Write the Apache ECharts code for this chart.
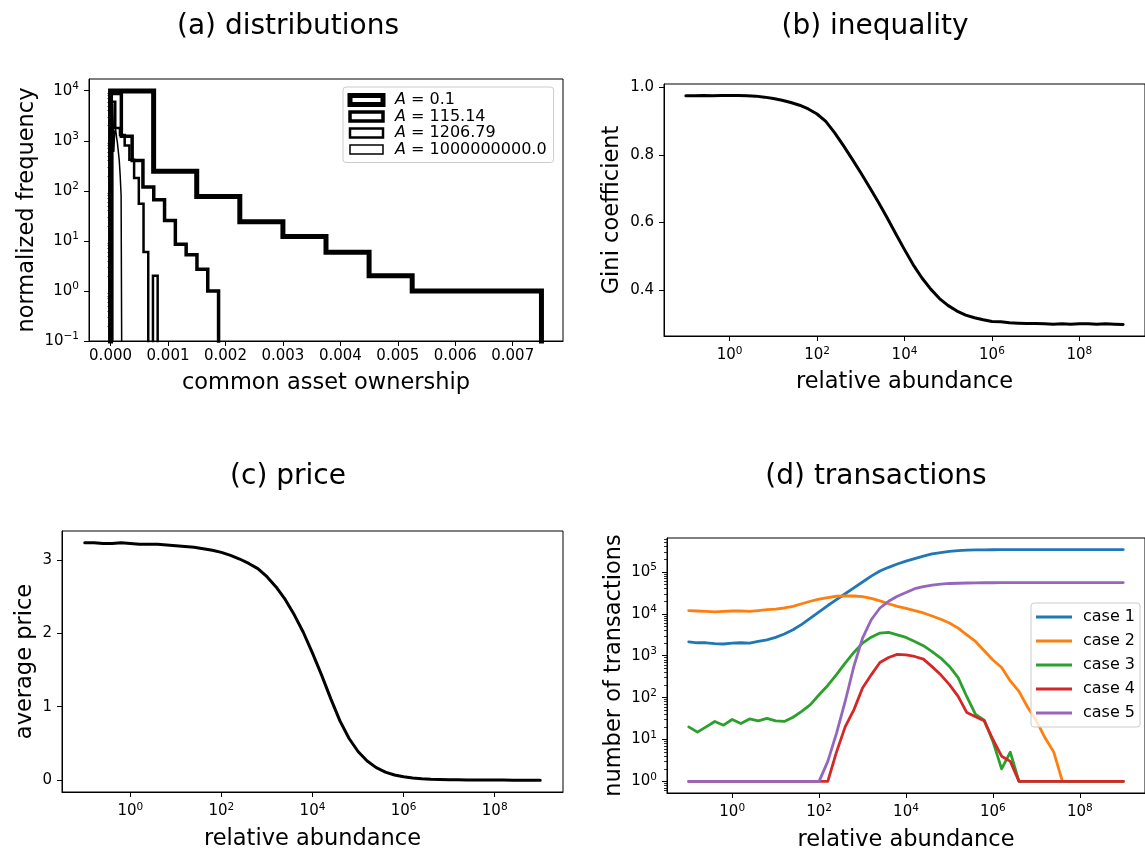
<!DOCTYPE html>
<html>
<head>
<meta charset="utf-8">
<script src="https://cdn.jsdelivr.net/npm/echarts@6.0.0/dist/echarts.min.js"></script>
<style>
  html, body { margin: 0; padding: 0; background: #ffffff; }
  #chart { width: 1145px; height: 853px; }
</style>
</head>
<body>
<div id="chart"></div>
<script>
// ---------- (a) distributions: histogram bin edges and normalized frequencies ----------
const histNames = ['A = 0.1', 'A = 115.14', 'A = 1206.79', 'A = 1000000000.0'];
const edgesA1 = [0, 0.00075, 0.0015, 0.00225, 0.003, 0.00375, 0.0045, 0.00525, 0.006, 0.00675, 0.0075];
const freqA1  = [9900, 245, 77, 24, 12.2, 5.9, 2, 1, 1, 1];
const edgesA2 = [0, 0.000188, 0.000376, 0.000564, 0.000752, 0.00094, 0.001128, 0.001316, 0.001504, 0.001692, 0.00188];
const freqA2  = [8800, 1230, 405, 119, 66, 25.6, 8.6, 5.3, 2.7, 1];
const edgesA3 = [0, 0.000082, 0.000164, 0.000246, 0.000328, 0.00041, 0.000492, 0.000574, 0.000656, 0.000738, 0.00082];
const freqA3  = [6000, 1800, 1300, 800, 420, 180, 55, 6, 0, 2];
const edgesA4 = [0.00004, 0.000056, 0.000072, 0.000088, 0.000104, 0.00012, 0.000136, 0.000152, 0.000168, 0.000184, 0.0002];
const freqA4  = [5600, 600, 1500, 1700, 1200, 900, 600, 400, 200, 80];

const ownershipTicks = [0, 0.001, 0.002, 0.003, 0.004, 0.005, 0.006, 0.007];
const freqTicks = [0.1, 1, 10, 100, 1000, 10000];

// ---------- shared abundance samples for (b), (c), (d) ----------
const abundance = [
  0.1, 0.1585, 0.2512, 0.3981, 0.631, 1, 1.585, 2.512, 3.981, 6.31,
  10, 15.85, 25.12, 39.81, 63.1, 100, 158.5, 251.2, 398.1, 631,
  1000, 1585, 2512, 3981, 6310, 1e4, 1.585e4, 2.512e4, 3.981e4, 6.31e4,
  1e5, 1.585e5, 2.512e5, 3.981e5, 6.31e5, 1e6, 1.585e6, 2.512e6, 3.981e6, 6.31e6,
  1e7, 1.585e7, 2.512e7, 3.981e7, 6.31e7, 1e8, 1.585e8, 2.512e8, 3.981e8, 6.31e8,
  1e9
];
const abundanceTicks = [1, 1e2, 1e4, 1e6, 1e8];

// ---------- (b) inequality ----------
const gini = [
  0.975, 0.975, 0.976, 0.975, 0.976, 0.976, 0.976, 0.975, 0.974, 0.971,
  0.967, 0.962, 0.955, 0.947, 0.936, 0.921, 0.899, 0.866, 0.828, 0.788,
  0.747, 0.704, 0.660, 0.614, 0.566, 0.519, 0.474, 0.435, 0.402, 0.374,
  0.353, 0.337, 0.325, 0.317, 0.311, 0.306, 0.305, 0.302, 0.301, 0.300,
  0.300, 0.299, 0.298, 0.299, 0.298, 0.299, 0.299, 0.298, 0.299, 0.298,
  0.297
];
const giniTicks = [0.4, 0.6, 0.8, 1.0];

// ---------- (c) price ----------
const price = [
  3.23, 3.23, 3.22, 3.22, 3.23, 3.22, 3.21, 3.21, 3.21, 3.20,
  3.19, 3.18, 3.17, 3.15, 3.13, 3.10, 3.06, 3.01, 2.95, 2.88,
  2.77, 2.63, 2.46, 2.25, 2.01, 1.73, 1.43, 1.11, 0.81, 0.57,
  0.39, 0.26, 0.17, 0.11, 0.07, 0.045, 0.03, 0.02, 0.013, 0.009,
  0.006, 0.004, 0.003, 0.002, 0.001, 0.001, 0.001, 0, 0, 0,
  0
];
const priceTicks = [0, 1, 2, 3];

// ---------- (d) transactions ----------
const caseNames = ['case 1', 'case 2', 'case 3', 'case 4', 'case 5'];
const trans1 = [
  2140, 2040, 2040, 1950, 1905, 2000, 2040, 2000, 2190, 2400,
  2750, 3310, 4170, 5620, 7940, 11200, 15800, 21900, 30200, 41700,
  57500, 79400, 105000, 129000, 155000, 182000, 209000, 240000, 269000, 288000,
  309000, 324000, 331000, 335000, 338000, 339000, 340000, 341000, 341000, 342000,
  342000, 341000, 342000, 342000, 341000, 342000, 342000, 342000, 341000, 342000,
  342000
];
const trans2 = [
  12000, 11700, 11500, 11200, 11500, 11700, 11800, 11400, 12000, 12600,
  12900, 13800, 15100, 17400, 20000, 22400, 24500, 26300, 26900, 26700,
  25700, 23400, 20400, 17400, 15100, 13500, 12000, 10500, 8910, 7410,
  6030, 4570, 3160, 2190, 1320, 794, 525, 251, 141, 59,
  28, 11, 5, 1, 1, 1, 1, 1, 1, 1,
  1
];
const trans3 = [
  20, 15, 20, 27, 22, 30, 24, 31, 28, 32,
  28, 27, 34, 47, 68, 117, 195, 355, 667, 1200,
  2000, 2770, 3470, 3600, 3160, 2740, 2190, 1740, 1260, 880,
  555, 300, 105, 40, 29, 9, 2, 5, 1, 1,
  1, 1, 1, 1, 1, 1, 1, 1, 1, 1,
  1
];
const trans4 = [
  1, 1, 1, 1, 1, 1, 1, 1, 1, 1,
  1, 1, 1, 1, 1, 1, 1, 5, 20, 51,
  170, 350, 690, 910, 1080, 1050, 960, 830, 550, 350,
  204, 107, 44, 35, 28, 10, 4, 3, 1, 1,
  1, 1, 1, 1, 1, 1, 1, 1, 1, 1,
  1
];
const trans5 = [
  1, 1, 1, 1, 1, 1, 1, 1, 1, 1,
  1, 1, 1, 1, 1, 1, 3, 14, 81, 555,
  2630, 7240, 13800, 19900, 26300, 32400, 39800, 44700, 48600, 51300,
  53100, 53700, 54500, 55000, 55200, 55300, 55500, 55400, 55600, 55500,
  55700, 55600, 55600, 55800, 55700, 55600, 55800, 55700, 55800, 55900,
  55800
];
const transTicks = [1, 10, 100, 1e3, 1e4, 1e5];

// ---------- styling ----------
const FONT = 'DejaVu Sans';
const BLACK = '#000000';
const caseColors = ['#1f77b4', '#ff7f0e', '#2ca02c', '#d62728', '#9467bd'];
const histLineWidths = [5, 3.5, 2.5, 1.5];
const histFloor = 1e-3;      // baseline below the axis, clipped by the grid
const freqAxisMax = 17140;

// 5% autoscale margins, linear and logarithmic
function padLin(lo, hi) { const d = (hi - lo) * 0.05; return [lo - d, hi + d]; }
function padLog(lo, hi) {
  const a = Math.log10(lo), b = Math.log10(hi), d = (b - a) * 0.05;
  return [Math.pow(10, a - d), Math.pow(10, b + d)];
}
function minorLogTicks(lo, hi) {
  const out = [];
  for (let k = Math.floor(Math.log10(lo)); k <= Math.ceil(Math.log10(hi)); k++) {
    for (let m = 2; m <= 9; m++) {
      const v = m * Math.pow(10, k);
      if (v > lo && v < hi) out.push(v);
    }
  }
  return out;
}
// step outline of a histogram (closed down to the baseline at both ends)
function stepOutline(edges, counts) {
  const pts = [[edges[0], histFloor]];
  counts.forEach((c, i) => {
    const v = c > 0 ? c : histFloor;
    pts.push([edges[i], v], [edges[i + 1], v]);
  });
  pts.push([edges[edges.length - 1], histFloor]);
  return pts;
}
function powLabel(v) {
  const e = Math.round(Math.log10(v));
  return '{b|10}{s|' + (e < 0 ? '\u2212' + (-e) : String(e)) + '}';
}
const powRich = {
  b: { fontFamily: FONT, fontSize: 15, lineHeight: 20, color: BLACK },
  s: { fontFamily: FONT, fontSize: 10.5, lineHeight: 9, verticalAlign: 'top', color: BLACK }
};

const ownershipRange = padLin(0, 0.0075);
const abundanceRange = padLog(0.1, 1e9);
const giniRange = padLin(Math.min(...gini), Math.max(...gini));
const priceRange = padLin(Math.min(...price), Math.max(...price));
const transRange = padLog(1, Math.max(...trans1));

const grids = [
  { left: 89,  top: 79,  width: 474, height: 262 },
  { left: 664, top: 84,  width: 486, height: 252 },
  { left: 62,  top: 531, width: 501, height: 261 },
  { left: 667, top: 538, width: 483, height: 255 }
].map(g => Object.assign({ show: true, borderColor: BLACK, borderWidth: 1, backgroundColor: 'transparent' }, g));

function axisBase(gridIndex, name, nameGap) {
  return {
    gridIndex, name, nameGap,
    nameLocation: 'middle',
    nameTextStyle: { fontFamily: FONT, fontSize: 22.5, color: BLACK },
    axisLine: { show: true, onZero: false, lineStyle: { color: BLACK, width: 1 } },
    splitLine: { show: false },
    minorSplitLine: { show: false }
  };
}
function ticksOn(values, formatter, margin, rich) {
  return {
    axisTick: { show: true, customValues: values, length: 5, lineStyle: { color: BLACK, width: 1 } },
    axisLabel: {
      show: true, customValues: values, formatter, margin,
      fontFamily: FONT, fontSize: 15, color: BLACK, rich: rich || undefined
    }
  };
}
function minorAxis(gridIndex, lo, hi) {
  return {
    gridIndex, type: 'log', logBase: 10, min: lo, max: hi, position: 'left',
    axisLine: { show: false },
    axisLabel: { show: false },
    splitLine: { show: false },
    axisTick: { show: true, customValues: minorLogTicks(lo, hi), length: 3, lineStyle: { color: BLACK, width: 0.8 } }
  };
}

const xAxes = [
  Object.assign(axisBase(0, 'common asset ownership', 31), {
    type: 'value', min: ownershipRange[0], max: ownershipRange[1]
  }, ticksOn(ownershipTicks, v => v.toFixed(3), 8)),
  Object.assign(axisBase(1, 'relative abundance', 35), {
    type: 'log', logBase: 10, min: abundanceRange[0], max: abundanceRange[1]
  }, ticksOn(abundanceTicks, powLabel, 9.5, powRich)),
  Object.assign(axisBase(2, 'relative abundance', 36), {
    type: 'log', logBase: 10, min: abundanceRange[0], max: abundanceRange[1]
  }, ticksOn(abundanceTicks, powLabel, 9.5, powRich)),
  Object.assign(axisBase(3, 'relative abundance', 36), {
    type: 'log', logBase: 10, min: abundanceRange[0], max: abundanceRange[1]
  }, ticksOn(abundanceTicks, powLabel, 9.5, powRich))
];

const yAxes = [
  Object.assign(axisBase(0, 'normalized frequency', 50), {
    type: 'log', logBase: 10, min: 0.1, max: freqAxisMax, position: 'left'
  }, ticksOn(freqTicks, powLabel, 10, powRich)),
  Object.assign(axisBase(1, 'Gini coefficient', 40), {
    type: 'value', min: giniRange[0], max: giniRange[1], position: 'left'
  }, ticksOn(giniTicks, v => v.toFixed(1), 10)),
  Object.assign(axisBase(2, 'average price', 25), {
    type: 'value', min: priceRange[0], max: priceRange[1], position: 'left'
  }, ticksOn(priceTicks, v => String(Math.round(v)), 10)),
  Object.assign(axisBase(3, 'number of transactions', 41.5), {
    type: 'log', logBase: 10, min: transRange[0], max: transRange[1], position: 'left'
  }, ticksOn(transTicks, powLabel, 10, powRich)),
  minorAxis(0, 0.1, freqAxisMax),
  minorAxis(3, transRange[0], transRange[1])
];

const histEdges = [edgesA1, edgesA2, edgesA3, edgesA4];
const histFreqs = [freqA1, freqA2, freqA3, freqA4];
const series = [];
histNames.forEach((name, i) => {
  series.push({
    name, type: 'line', xAxisIndex: 0, yAxisIndex: 0,
    data: stepOutline(histEdges[i], histFreqs[i]),
    symbol: 'none', clip: true, silent: true,
    lineStyle: { color: BLACK, width: histLineWidths[i], join: 'miter', cap: 'butt' },
    itemStyle: { color: BLACK }
  });
});
series.push({
  name: 'gini', type: 'line', xAxisIndex: 1, yAxisIndex: 1,
  data: abundance.map((x, i) => [x, gini[i]]),
  symbol: 'none', silent: true,
  lineStyle: { color: BLACK, width: 3, join: 'round', cap: 'round' }
});
series.push({
  name: 'price', type: 'line', xAxisIndex: 2, yAxisIndex: 2,
  data: abundance.map((x, i) => [x, price[i]]),
  symbol: 'none', silent: true,
  lineStyle: { color: BLACK, width: 3, join: 'round', cap: 'round' }
});
[trans1, trans2, trans3, trans4, trans5].forEach((arr, i) => {
  series.push({
    name: caseNames[i], type: 'line', xAxisIndex: 3, yAxisIndex: 3,
    data: abundance.map((x, j) => [x, arr[j]]),
    symbol: 'none', silent: true, clip: true,
    color: caseColors[i],
    lineStyle: { color: caseColors[i], width: 2.8, join: 'round', cap: 'round' },
    itemStyle: { color: caseColors[i] }
  });
});

const titles = [
  { text: '(a) distributions', x: 288, y: 27 },
  { text: '(b) inequality',    x: 875, y: 27 },
  { text: '(c) price',         x: 288, y: 477 },
  { text: '(d) transactions',  x: 876, y: 477 }
];

const option = {
  animation: false,
  backgroundColor: '#ffffff',
  grid: grids,
  xAxis: xAxes,
  yAxis: yAxes,
  series,
  legend: [
    {
      orient: 'vertical', left: 343, top: 87,
      padding: [5, 7, 5, 4.5], itemGap: 0.5,
      itemWidth: 33, itemHeight: 9, icon: 'rect',
      selectedMode: false,
      backgroundColor: 'rgba(255,255,255,0.8)', borderColor: '#cccccc', borderWidth: 1, borderRadius: 3,
      data: histNames.map((name, i) => ({
        name, icon: 'rect',
        itemStyle: { color: '#ffffff', borderColor: BLACK, borderWidth: histLineWidths[i] }
      })),
      formatter: name => '{i|A}' + name.slice(1),
      textStyle: {
        fontFamily: FONT, fontSize: 16, lineHeight: 16, color: BLACK, padding: [0, 0, 0, 7],
        rich: { i: { fontFamily: FONT, fontSize: 16, lineHeight: 16, fontStyle: 'italic', color: BLACK } }
      }
    },
    {
      orient: 'vertical', left: 1031, top: 603,
      padding: [5, 5, 5, 5], itemGap: 6,
      itemWidth: 36, itemHeight: 3, icon: 'rect',
      selectedMode: false,
      backgroundColor: 'rgba(255,255,255,0.8)', borderColor: '#cccccc', borderWidth: 1, borderRadius: 3,
      data: caseNames.map((name, i) => ({ name, itemStyle: { color: caseColors[i], borderWidth: 0 } })),
      textStyle: { fontFamily: FONT, fontSize: 16, lineHeight: 18, color: BLACK, padding: [0, 0, 0, 6] }
    }
  ],
  graphic: titles.map(t => ({
    type: 'text', x: t.x, y: t.y, silent: true,
    style: {
      text: t.text, fontFamily: FONT, fontSize: 28, fill: BLACK,
      align: 'center', verticalAlign: 'middle', textAlign: 'center', textVerticalAlign: 'middle'
    }
  }))
};

const chart = echarts.init(document.getElementById('chart'), null, { renderer: 'canvas' });
chart.setOption(option);
</script>
</body>
</html>
